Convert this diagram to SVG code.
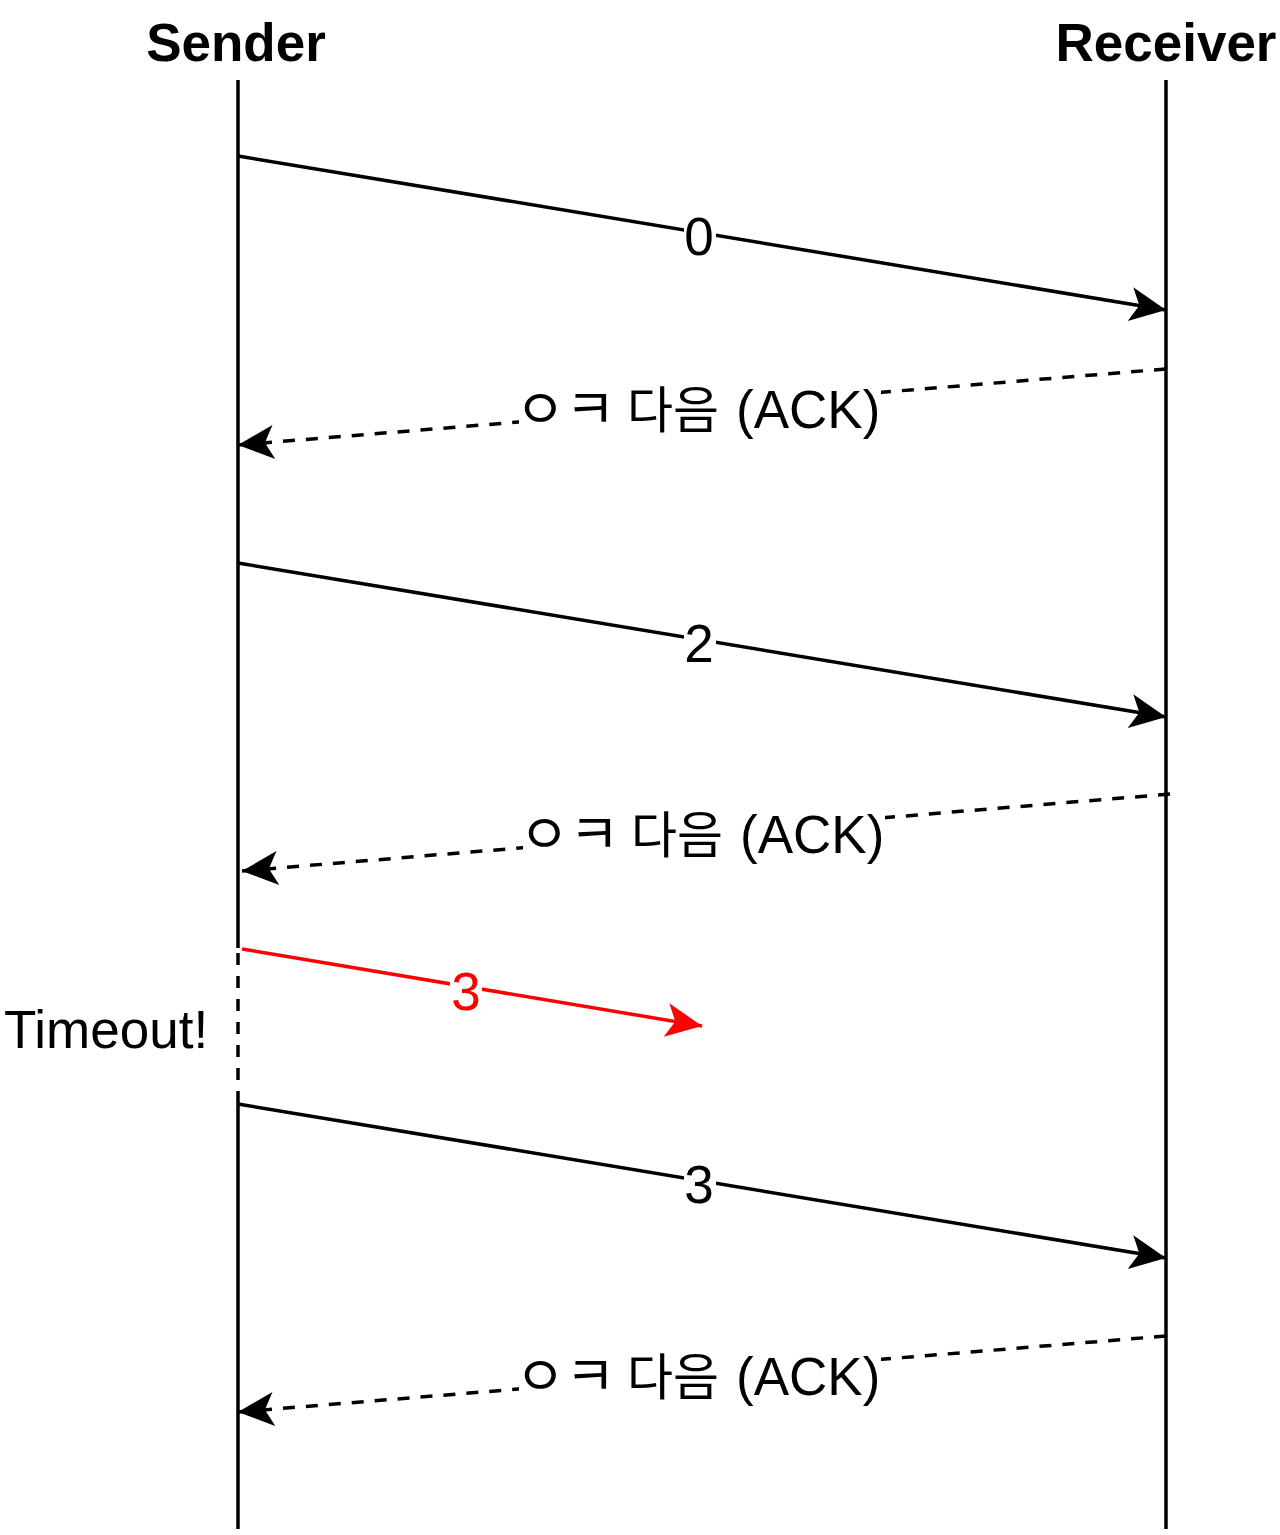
<svg xmlns="http://www.w3.org/2000/svg" width="1280" height="1535" viewBox="0 0 1280 1535">
<defs>
<style>
.title{font-family:"Liberation Sans",Arial,sans-serif;font-weight:bold;font-size:53px;fill:#000;text-anchor:middle}
.lbl{font-family:"Liberation Sans","Noto Sans CJK KR",sans-serif;font-size:53px;fill:#000;text-anchor:middle}
.ack{font-family:"Liberation Sans","Noto Sans CJK KR",sans-serif;font-size:53px;fill:#000}
.ko{font-family:"Noto Sans CJK KR",sans-serif;font-size:50px}
.jamo{font-family:"Noto Sans CJK KR",sans-serif;font-size:55px}
.life{stroke:#000;stroke-width:3.5;fill:none}
.msg{stroke:#000;stroke-width:3.5;fill:none}
.dash{stroke-dasharray:12 11}
.bg{fill:#fff}
</style>
<marker id="ah" viewBox="-37 -18 38 36" refX="0" refY="0" markerWidth="38" markerHeight="36" markerUnits="userSpaceOnUse" orient="auto">
<path d="M0,0 L-36,-17 L-27,0 L-36,17 Z" fill="#000"/>
</marker>
<marker id="ahr" viewBox="-37 -18 38 36" refX="0" refY="0" markerWidth="38" markerHeight="36" markerUnits="userSpaceOnUse" orient="auto">
<path d="M0,0 L-36,-17 L-27,0 L-36,17 Z" fill="#FF0000"/>
</marker>
</defs>
<rect width="1280" height="1535" fill="#fff"/>
<g id="sender">
<text class="title" x="236" y="61">Sender</text>
<line class="life" x1="238" y1="80" x2="238" y2="948"/>
<line class="life" x1="238" y1="953" x2="238" y2="1092" stroke-dasharray="12 11"/>
<line class="life" x1="238" y1="1092" x2="238" y2="1529"/>
</g>
<g id="receiver">
<text class="title" x="1166" y="61">Receiver</text>
<line class="life" x1="1166" y1="80" x2="1166" y2="1529"/>
</g>
<g id="timeout">
<text class="lbl" x="106" y="1048">Timeout!</text>
</g>
<g id="connectors">
<line class="msg" x1="238" y1="156" x2="1166" y2="310" marker-end="url(#ah)"/>
<line class="msg dash" x1="1166" y1="369" x2="238" y2="445" marker-end="url(#ah)"/>
<line class="msg" x1="238" y1="563" x2="1166" y2="717" marker-end="url(#ah)"/>
<line class="msg dash" x1="1170" y1="794" x2="242" y2="871" marker-end="url(#ah)"/>
<line class="msg" x1="242" y1="949" x2="702" y2="1026" style="stroke:#FF0000" marker-end="url(#ahr)"/>
<line class="msg" x1="238" y1="1104" x2="1166" y2="1258" marker-end="url(#ah)"/>
<line class="msg dash" x1="1166" y1="1336" x2="238" y2="1412" marker-end="url(#ah)"/>
</g>
<g id="label-0">
<rect class="bg" x="684" y="207" width="32" height="60"/>
<text class="lbl" x="699" y="255">0</text>
</g>
<g id="label-ack-1">
<rect class="bg" x="519" y="379" width="362" height="61"/>
<text class="ack" y="428"><tspan class="jamo" x="515">ㅇ</tspan><tspan class="jamo" x="565">ㅋ</tspan><tspan class="ko" x="627">다음</tspan><tspan x="736">(ACK)</tspan></text>
</g>
<g id="label-2">
<rect class="bg" x="684" y="614" width="32" height="60"/>
<text class="lbl" x="699" y="662">2</text>
</g>
<g id="label-ack-2">
<rect class="bg" x="523" y="804" width="362" height="61"/>
<text class="ack" y="853"><tspan class="jamo" x="519">ㅇ</tspan><tspan class="jamo" x="569">ㅋ</tspan><tspan class="ko" x="631">다음</tspan><tspan x="740">(ACK)</tspan></text>
</g>
<g id="label-3-lost">
<rect class="bg" x="450" y="962" width="32" height="58"/>
<text class="lbl" x="466" y="1010" style="fill:#FF0000">3</text>
</g>
<g id="label-3">
<rect class="bg" x="684" y="1155" width="32" height="60"/>
<text class="lbl" x="699" y="1203">3</text>
</g>
<g id="label-ack-3">
<rect class="bg" x="519" y="1346" width="362" height="61"/>
<text class="ack" y="1395"><tspan class="jamo" x="515">ㅇ</tspan><tspan class="jamo" x="565">ㅋ</tspan><tspan class="ko" x="627">다음</tspan><tspan x="736">(ACK)</tspan></text>
</g>
</svg>
